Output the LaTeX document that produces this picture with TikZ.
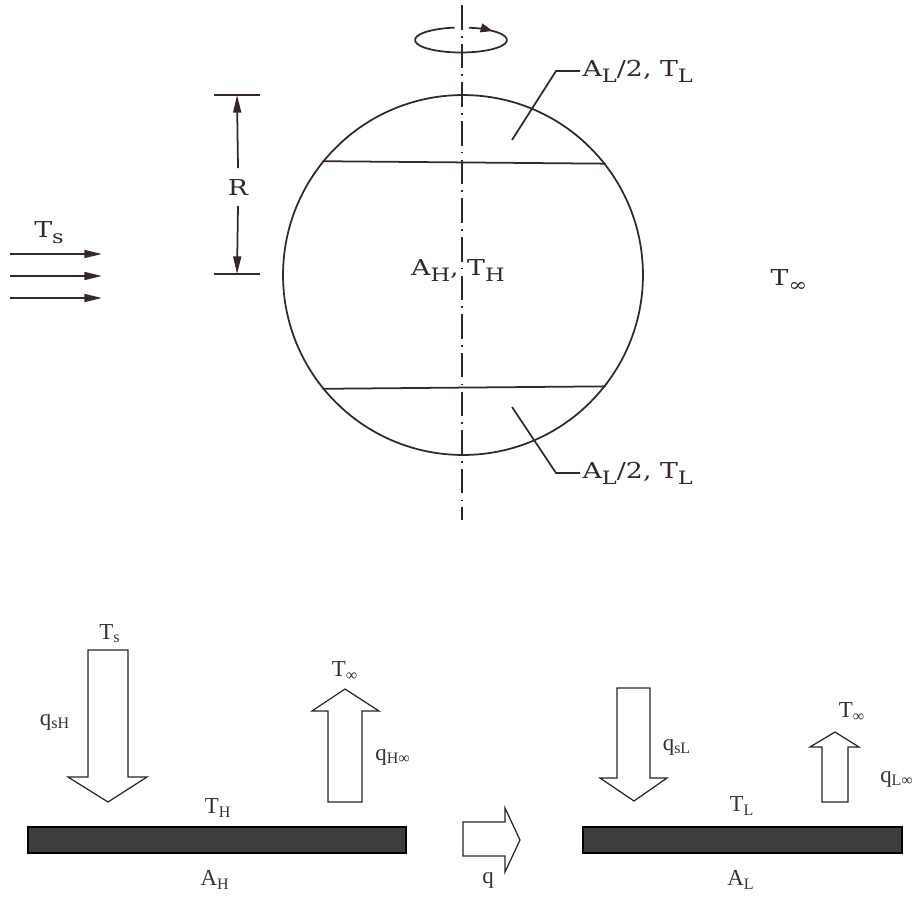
\documentclass[tikz,border=0pt]{standalone}
\usepackage{fontspec}
\setmainfont{Liberation Serif}
\newfontfamily\figfont[FakeStretch=1.22]{DejaVu Serif}
\usetikzlibrary{arrows.meta}
\definecolor{ink}{RGB}{55,40,40}
\definecolor{slab}{RGB}{62,62,62}
\newcommand{\lo}[1]{\raisebox{-0.55ex}{\fontsize{10.5}{12}\selectfont #1}}

\begin{document}
\begin{tikzpicture}[
    x=0.02cm, y=0.02cm,
    line width=1pt, draw=ink,
    lbl/.style={inner sep=1pt, text=ink, font=\figfont\fontsize{12.5}{15}\selectfont},
    blbl/.style={inner sep=1pt, text=black!80, font=\fontsize{13}{15}\selectfont},
    dim/.style={-{Triangle[length=10pt,width=4.5pt]}},
    axisline/.style={line width=0.8pt, dash pattern=on 14pt off 3.5pt on 1pt off 3.5pt},
    flux/.style={draw=black!85, line width=0.7pt, fill=white},
    plate/.style={draw=black, fill=slab, line width=0.8pt, minimum width=#1,
                  minimum height=0.52cm, inner sep=0pt}
  ]
  \useasboundingbox (0,0) rectangle (921,-897);

  % sphere
  \node[circle, draw=ink, line width=1pt, minimum size=7.2cm, inner sep=0pt] (sphere) at (463,-275) {};
  \draw (sphere.141.1) -- (sphere.38.9);
  \draw (sphere.-141.3) -- (sphere.-38.7);
  \draw[axisline] (462,-5) -- (462,-520);

  % rotation
  \coordinate (spin) at (461,-40);
  \draw[-{Triangle[length=7pt,width=5pt]}] (spin) ++(80:0.92cm and 0.25cm)
    arc[start angle=80, end angle=46, x radius=0.92cm, y radius=0.25cm];
  \draw (spin) ++(50:0.92cm and 0.25cm)
    arc[start angle=50, end angle=-262, x radius=0.92cm, y radius=0.25cm];

  % radius
  \node[lbl, minimum height=0.72cm] (R) at (238,-187) {R};
  \coordinate (rtop) at (237,-95);
  \coordinate (rbot) at (237,-274);
  \draw (214,-95) -- (260,-95);
  \draw (214,-274) -- (260,-274);
  \draw[dim] (R.north) -- (rtop);
  \draw[dim] (R.south) -- (rbot);

  % incoming radiation
  \node[lbl, anchor=base] (Tsun) at (49,-237) {T\lo{s}};
  \foreach \yy in {254,276,298} {
    \coordinate (s\yy) at (10,-\yy);
    \coordinate (e\yy) at (102,-\yy);
    \draw[dim] (s\yy) -- (e\yy);
  }

  \node[lbl, anchor=base] (AH) at (458,-275) {A\lo{H}, T\lo{H}};
  \node[lbl, anchor=base] (Tinf) at (789,-285) {T\lo{∞}};

  \node[lbl, anchor=west] (capU) at (580,-71) {A\lo{L}/2, T\lo{L}};
  \node[lbl, anchor=west] (capD) at (580,-473) {A\lo{L}/2, T\lo{L}};
  \coordinate (pU) at (512,-140);
  \coordinate (pD) at (512,-407);
  \draw (pU) -- (556,-71) -- (capU.west);
  \draw (pD) -- (556,-473) -- (capD.west);

  % energy balance, hot zone
  \node[plate=7.56cm] (plateH) at (217,-840) {};
  \draw[flux] (88,-650) -- (128,-650) -- (128,-777) -- (147,-777) -- (108,-802)
    -- (68,-777) -- (88,-777) -- cycle;
  \draw[flux] (328,-802) -- (362,-802) -- (362,-711) -- (379,-711) -- (345,-689)
    -- (312,-711) -- (328,-711) -- cycle;
  \node[blbl] (TsH) at (110,-634) {T\textsubscript{s}};
  \node[blbl] (qsH) at (55,-722) {q\textsubscript{sH}};
  \node[blbl] (TinfH) at (345,-671) {T\textsubscript{∞}};
  \node[blbl] (qHinf) at (393,-757) {q\textsubscript{H∞}};
  \node[blbl] (TH) at (218,-808) {T\textsubscript{H}};
  \node[blbl] (AHb) at (215,-880) {A\textsubscript{H}};

  % conduction
  \draw[flux] (463,-822) -- (505,-822) -- (505,-808) -- (520,-840) -- (505,-872)
    -- (505,-856) -- (463,-856) -- cycle;
  \node[blbl] (q) at (488,-880) {q};

  % energy balance, cold zone
  \node[plate=6.38cm] (plateL) at (742.5,-840) {};
  \draw[flux] (617,-688) -- (650,-688) -- (650,-778) -- (667,-778) -- (634,-801)
    -- (600,-778) -- (617,-778) -- cycle;
  \draw[flux] (822,-802) -- (848,-802) -- (848,-747) -- (859,-747) -- (835,-732)
    -- (810,-747) -- (822,-747) -- cycle;
  \node[blbl] (qsL) at (677,-747) {q\textsubscript{sL}};
  \node[blbl] (TinfL) at (852,-712) {T\textsubscript{∞}};
  \node[blbl] (qLinf) at (897,-779) {q\textsubscript{L∞}};
  \node[blbl] (TL) at (742,-806) {T\textsubscript{L}};
  \node[blbl] (AL) at (741,-880) {A\textsubscript{L}};
\end{tikzpicture}
\end{document}
